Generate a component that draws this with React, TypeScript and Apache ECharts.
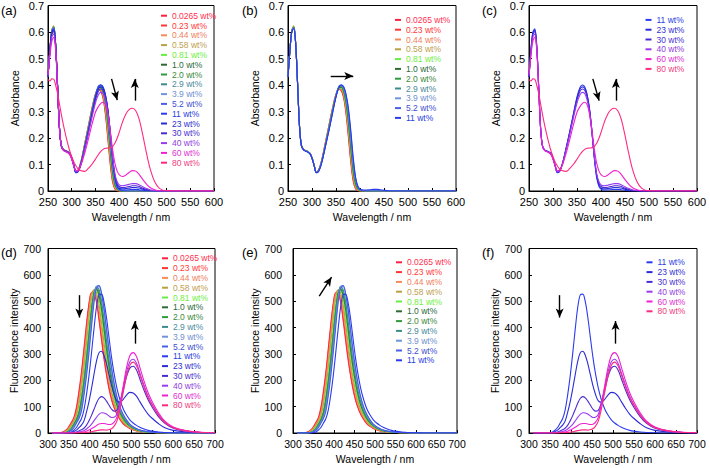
import React, { useEffect, useRef } from 'react';
import * as echarts from 'echarts';

const FONT = 'Liberation Sans, Arial, Helvetica, sans-serif';

const NAMES = ['0.0265 wt%', '0.23 wt%', '0.44 wt%', '0.58 wt%', '0.81 wt%', '1.0 wt%', '2.0 wt%', '2.9 wt%', '3.9 wt%', '5.2 wt%', '11 wt%', '23 wt%', '30 wt%', '40 wt%', '60 wt%', '80 wt%'];
const COLORS = ['#ff2040', '#ff3434', '#f58a5a', '#b9a042', '#66ee44', '#2e6b32', '#2f9a3f', '#3c8c8c', '#6f93dd', '#4a5ee6', '#2a3af0', '#2a2ad8', '#4a2ad0', '#9a3af0', '#f020d0', '#ff2a80'];
const TEXT_COLORS = ['#ff2f4f', '#ff3a3a', '#f08060', '#c0a050', '#70f040', '#2a6a3a', '#3a8a3a', '#4a8a9a', '#7090d0', '#4050d0', '#2a40e0', '#3030d0', '#4a30d0', '#9040e0', '#e030d0', '#f04080'];

const ABS_TICKS_X = [250, 600, 50];
const ABS_TICKS_Y = [0, 0.7, 0.1];
const FL_TICKS_X = [300, 700, 50];
const FL_TICKS_Y = [0, 700, 100];

const X_ABS = [250, 254, 258, 262, 266, 270, 274, 278, 283, 290, 296, 301, 305, 309, 314, 320, 327, 335, 343, 350, 356, 361, 366, 371, 376, 381, 386, 391, 396, 401, 407, 414, 421, 428, 435, 442, 450, 458, 466, 475, 485, 500, 550, 600];

const ABS_C0265 = [0.43, 0.53, 0.605, 0.618, 0.555, 0.405, 0.245, 0.172, 0.156, 0.15, 0.142, 0.12, 0.094, 0.072, 0.08, 0.115, 0.175, 0.245, 0.315, 0.365, 0.383, 0.378, 0.35, 0.29, 0.2, 0.105, 0.035, 0.008, 0.001, 0, 0, 0, 0, 0, 0, 0, 0, 0, 0, 0, 0, 0, 0, 0];
const ABS_C023 = [0.43, 0.53, 0.605, 0.62, 0.556, 0.405, 0.245, 0.172, 0.156, 0.15, 0.142, 0.12, 0.094, 0.072, 0.08, 0.114, 0.174, 0.244, 0.314, 0.365, 0.384, 0.381, 0.355, 0.298, 0.21, 0.115, 0.042, 0.01, 0.002, 0, 0, 0, 0, 0, 0, 0, 0, 0, 0, 0, 0, 0, 0, 0];
const ABS_C044 = [0.43, 0.53, 0.606, 0.622, 0.557, 0.406, 0.246, 0.172, 0.156, 0.15, 0.142, 0.12, 0.094, 0.071, 0.079, 0.113, 0.172, 0.242, 0.312, 0.364, 0.386, 0.384, 0.362, 0.308, 0.225, 0.13, 0.05, 0.013, 0.003, 0, 0, 0, 0, 0, 0, 0, 0, 0, 0, 0, 0, 0, 0, 0];
const ABS_C058 = [0.43, 0.53, 0.606, 0.623, 0.557, 0.406, 0.246, 0.172, 0.156, 0.15, 0.142, 0.12, 0.094, 0.071, 0.079, 0.112, 0.17, 0.24, 0.31, 0.363, 0.387, 0.386, 0.366, 0.315, 0.235, 0.14, 0.056, 0.016, 0.004, 0.001, 0, 0, 0, 0, 0, 0, 0, 0, 0, 0, 0, 0, 0, 0];
const ABS_C081 = [0.43, 0.53, 0.605, 0.62, 0.556, 0.405, 0.245, 0.171, 0.155, 0.15, 0.142, 0.12, 0.093, 0.071, 0.078, 0.111, 0.169, 0.238, 0.308, 0.362, 0.389, 0.389, 0.371, 0.323, 0.245, 0.15, 0.064, 0.02, 0.005, 0.001, 0, 0, 0, 0, 0, 0, 0, 0, 0, 0, 0, 0, 0, 0];
const ABS_C10 = [0.43, 0.53, 0.604, 0.619, 0.556, 0.405, 0.245, 0.171, 0.155, 0.149, 0.141, 0.119, 0.093, 0.07, 0.077, 0.11, 0.167, 0.236, 0.306, 0.361, 0.39, 0.392, 0.376, 0.332, 0.258, 0.162, 0.073, 0.025, 0.007, 0.002, 0, 0, 0, 0, 0, 0, 0, 0, 0, 0, 0, 0, 0, 0];
const ABS_C20 = [0.43, 0.53, 0.604, 0.618, 0.555, 0.404, 0.244, 0.171, 0.155, 0.149, 0.141, 0.119, 0.093, 0.07, 0.077, 0.109, 0.166, 0.234, 0.304, 0.36, 0.392, 0.395, 0.381, 0.34, 0.27, 0.175, 0.083, 0.03, 0.009, 0.002, 0, 0, 0, 0, 0, 0, 0, 0, 0, 0, 0, 0, 0, 0];
const ABS_C29 = [0.43, 0.53, 0.603, 0.617, 0.555, 0.404, 0.244, 0.171, 0.155, 0.149, 0.141, 0.119, 0.093, 0.07, 0.076, 0.108, 0.164, 0.232, 0.302, 0.358, 0.393, 0.397, 0.385, 0.347, 0.282, 0.188, 0.093, 0.036, 0.011, 0.003, 0.001, 0, 0, 0, 0, 0, 0, 0, 0, 0, 0, 0, 0, 0];
const ABS_C39 = [0.43, 0.53, 0.603, 0.616, 0.554, 0.403, 0.243, 0.17, 0.154, 0.149, 0.141, 0.119, 0.093, 0.069, 0.076, 0.107, 0.163, 0.23, 0.3, 0.357, 0.394, 0.399, 0.389, 0.354, 0.293, 0.2, 0.104, 0.042, 0.013, 0.004, 0.001, 0, 0, 0, 0, 0, 0, 0, 0, 0, 0, 0, 0, 0];
const ABS_C52 = [0.43, 0.53, 0.602, 0.615, 0.554, 0.403, 0.243, 0.17, 0.154, 0.148, 0.14, 0.118, 0.092, 0.069, 0.075, 0.106, 0.161, 0.228, 0.298, 0.356, 0.395, 0.401, 0.392, 0.36, 0.303, 0.213, 0.115, 0.047, 0.015, 0.005, 0.002, 0.001, 0, 0, 0, 0, 0, 0, 0, 0, 0, 0, 0, 0];
const ABS_C11 = [0.43, 0.53, 0.6, 0.612, 0.552, 0.402, 0.242, 0.17, 0.154, 0.148, 0.14, 0.118, 0.092, 0.069, 0.075, 0.105, 0.16, 0.225, 0.295, 0.355, 0.39, 0.4, 0.393, 0.365, 0.31, 0.225, 0.125, 0.05, 0.016, 0.006, 0.004, 0.004, 0.005, 0.006, 0.006, 0.005, 0.003, 0.001, 0, 0, 0, 0, 0, 0];
const ABS_C23 = [0.43, 0.53, 0.595, 0.607, 0.55, 0.4, 0.242, 0.17, 0.154, 0.149, 0.141, 0.119, 0.093, 0.071, 0.075, 0.105, 0.158, 0.223, 0.292, 0.35, 0.384, 0.393, 0.388, 0.362, 0.31, 0.228, 0.13, 0.057, 0.022, 0.011, 0.008, 0.009, 0.011, 0.013, 0.013, 0.011, 0.007, 0.004, 0.002, 0.001, 0, 0, 0, 0];
const ABS_C30 = [0.43, 0.525, 0.59, 0.602, 0.546, 0.4, 0.242, 0.17, 0.153, 0.148, 0.14, 0.118, 0.093, 0.072, 0.076, 0.105, 0.157, 0.22, 0.288, 0.343, 0.375, 0.385, 0.38, 0.355, 0.305, 0.226, 0.132, 0.062, 0.028, 0.016, 0.013, 0.014, 0.017, 0.02, 0.02, 0.017, 0.011, 0.006, 0.003, 0.001, 0, 0, 0, 0];
const ABS_C40 = [0.435, 0.52, 0.58, 0.592, 0.54, 0.4, 0.242, 0.17, 0.152, 0.147, 0.139, 0.117, 0.092, 0.073, 0.077, 0.104, 0.153, 0.214, 0.28, 0.332, 0.362, 0.372, 0.368, 0.344, 0.296, 0.221, 0.133, 0.066, 0.034, 0.022, 0.02, 0.022, 0.025, 0.028, 0.028, 0.024, 0.016, 0.009, 0.004, 0.002, 0, 0, 0, 0];
const ABS_C60 = [0.44, 0.51, 0.565, 0.58, 0.535, 0.395, 0.243, 0.172, 0.152, 0.146, 0.136, 0.114, 0.09, 0.077, 0.08, 0.1, 0.14, 0.195, 0.253, 0.297, 0.318, 0.33, 0.335, 0.326, 0.292, 0.232, 0.16, 0.105, 0.074, 0.06, 0.055, 0.06, 0.07, 0.077, 0.075, 0.063, 0.043, 0.025, 0.012, 0.005, 0.001, 0, 0, 0];
const ABS_C80 = [0.42, 0.415, 0.423, 0.422, 0.4, 0.37, 0.33, 0.29, 0.245, 0.19, 0.15, 0.125, 0.108, 0.095, 0.083, 0.076, 0.074, 0.085, 0.102, 0.12, 0.137, 0.149, 0.157, 0.161, 0.162, 0.163, 0.168, 0.18, 0.2, 0.226, 0.26, 0.29, 0.307, 0.312, 0.303, 0.272, 0.21, 0.14, 0.08, 0.035, 0.01, 0.001, 0, 0];

const X_FL = [310, 330, 345, 355, 362, 368, 374, 380, 386, 392, 398, 404, 410, 416, 422, 428, 434, 440, 446, 452, 458, 465, 472, 480, 488, 496, 504, 512, 520, 530, 540, 550, 565, 580, 600, 630, 660, 700];

const FL_C0265 = [0, 1, 14, 38, 59, 97, 157, 230, 319, 411, 490, 532, 529, 497, 430, 355, 282, 220, 167, 127, 97, 71, 52, 35, 25, 17, 12, 8, 6, 4, 3, 2, 1, 1, 0, 0, 0, 0];
const FL_C023 = [0, 1, 12, 35, 54, 88, 146, 218, 305, 398, 482, 531, 534, 505, 444, 369, 294, 231, 177, 133, 101, 74, 54, 37, 26, 18, 13, 9, 6, 4, 3, 2, 1, 1, 0, 0, 0, 0];
const FL_C044 = [0, 0, 10, 30, 49, 75, 125, 193, 276, 369, 459, 526, 542, 519, 469, 397, 319, 252, 195, 148, 112, 81, 60, 41, 28, 20, 14, 10, 7, 4, 3, 2, 1, 1, 0, 0, 0, 0];
const FL_C058 = [0, 0, 8, 25, 44, 64, 107, 169, 246, 338, 431, 506, 542, 532, 491, 423, 346, 274, 213, 162, 123, 89, 66, 46, 31, 22, 15, 10, 7, 5, 3, 2, 1, 1, 0, 0, 0, 0];
const FL_C081 = [0, 0, 5, 20, 38, 55, 89, 148, 220, 308, 403, 488, 537, 540, 510, 449, 373, 298, 233, 179, 134, 98, 72, 50, 34, 25, 17, 12, 8, 5, 3, 2, 1, 1, 0, 0, 0, 0];
const FL_C10 = [0, 0, 3, 15, 33, 50, 76, 127, 195, 278, 372, 464, 531, 547, 524, 473, 400, 322, 254, 197, 149, 107, 79, 55, 38, 27, 19, 13, 9, 6, 4, 2, 1, 1, 0, 0, 0, 0];
const FL_C20 = [0, 0, 2, 14, 31, 47, 70, 117, 183, 265, 360, 453, 527, 555, 535, 488, 417, 338, 266, 208, 158, 114, 83, 58, 41, 28, 20, 14, 10, 6, 4, 3, 1, 1, 0, 0, 0, 0];
const FL_C29 = [0, 0, 2, 13, 28, 45, 66, 110, 174, 252, 347, 442, 519, 556, 546, 504, 433, 354, 281, 218, 166, 120, 87, 62, 43, 29, 21, 15, 10, 7, 4, 3, 1, 1, 0, 0, 0, 0];
const FL_C39 = [0, 0, 2, 10, 24, 40, 57, 92, 153, 228, 319, 417, 506, 556, 559, 529, 466, 387, 308, 242, 185, 133, 97, 68, 48, 32, 23, 16, 11, 7, 5, 3, 2, 1, 0, 0, 0, 0];
const FL_C52 = [0, 0, 1, 9, 20, 37, 54, 82, 141, 214, 302, 399, 492, 549, 559, 532, 475, 398, 319, 251, 193, 138, 101, 71, 50, 34, 24, 17, 11, 7, 5, 3, 2, 1, 0, 0, 0, 0];
const FL_C11 = [0, 0, 0, 3, 11, 21, 37, 54, 87, 144, 215, 301, 393, 476, 524, 527, 498, 439, 364, 290, 228, 170, 128, 92, 68, 50, 38, 29, 22, 15, 10, 7, 4, 2, 1, 0, 0, 0];
const FL_C23 = [0, 0, 0, 1, 6, 11, 20, 30, 45, 78, 118, 167, 221, 272, 304, 310, 295, 263, 222, 181, 148, 122, 117, 127, 144, 154, 152, 140, 119, 93, 71, 55, 35, 20, 10, 4, 2, 1];
const FL_C30 = [0, 0, 0, 0, 2, 4, 8, 12, 18, 29, 46, 66, 89, 113, 131, 138, 133, 121, 106, 91, 83, 86, 114, 162, 213, 246, 253, 239, 205, 162, 125, 97, 61, 37, 18, 7, 3, 1];
const FL_C40 = [0, 0, 0, 0, 1, 2, 4, 6, 9, 15, 23, 33, 46, 59, 71, 77, 76, 72, 65, 59, 60, 71, 110, 169, 231, 270, 280, 265, 228, 181, 139, 107, 69, 41, 21, 8, 3, 1];
const FL_C60 = [0, 0, 0, 0, 0, 1, 2, 3, 4, 7, 11, 16, 22, 28, 34, 36, 36, 34, 32, 33, 40, 59, 108, 177, 247, 293, 305, 290, 249, 197, 152, 118, 76, 45, 23, 9, 4, 1];
const FL_C80 = [0, 0, 0, 0, 0, 0, 1, 1, 1, 2, 3, 5, 7, 9, 11, 12, 12, 11, 13, 16, 25, 45, 89, 152, 216, 257, 269, 255, 220, 174, 134, 105, 67, 40, 20, 8, 3, 1];

const ABS_SETS = [ABS_C0265, ABS_C023, ABS_C044, ABS_C058, ABS_C081, ABS_C10, ABS_C20, ABS_C29, ABS_C39, ABS_C52, ABS_C11, ABS_C23, ABS_C30, ABS_C40, ABS_C60, ABS_C80];
const FL_SETS = [FL_C0265, FL_C023, FL_C044, FL_C058, FL_C081, FL_C10, FL_C20, FL_C29, FL_C39, FL_C52, FL_C11, FL_C23, FL_C30, FL_C40, FL_C60, FL_C80];

// arrows, in data coordinates: [from, to]
const ARROWS_A = [[[384, 0.423], [396, 0.343]], [[433, 0.341], [433, 0.423]]];
const ARROWS_B = [[[339, 0.434], [386, 0.434]]];
const ARROWS_C = [[[383, 0.423], [396, 0.341]], [[431, 0.341], [431, 0.423]]];
const ARROWS_D = [[[375, 523], [375, 438]], [[508, 339], [508, 425]]];
const ARROWS_E = [[[364, 519], [394, 591]]];
const ARROWS_F = [[[373, 523], [373, 438]], [[506, 339], [506, 425]]];

const LOW = [0, 1, 2, 3, 4, 5, 6, 7, 8, 9, 10];
const HIGH = [10, 11, 12, 13, 14, 15];
const ALL = [0, 1, 2, 3, 4, 5, 6, 7, 8, 9, 10, 11, 12, 13, 14, 15];

const PANELS = [
  { label: '(a)', lx: 1, ly: 10, kind: 'abs', set: ALL, arrows: ARROWS_A, grid: { left: 48, top: 5.5, width: 166, height: 185.5 }, legend: { left: 161, top: 10.8 }, labelMargin: 4, nameGap: 28 },
  { label: '(b)', lx: 242, ly: 10, kind: 'abs', set: LOW, arrows: ARROWS_B, grid: { left: 288, top: 5, width: 168, height: 186 }, legend: { left: 395, top: 15 }, labelMargin: 4, nameGap: 28 },
  { label: '(c)', lx: 482, ly: 10, kind: 'abs', set: HIGH, arrows: ARROWS_C, grid: { left: 529, top: 5.5, width: 168, height: 185.5 }, legend: { left: 645.5, top: 15 }, labelMargin: 4, nameGap: 28 },
  { label: '(d)', lx: 1, ly: 252, kind: 'fl', set: ALL, arrows: ARROWS_D, grid: { left: 48, top: 248.5, width: 167, height: 184.5 }, legend: { left: 162, top: 253.4 }, labelMargin: 7, nameGap: 29 },
  { label: '(e)', lx: 242, ly: 252, kind: 'fl', set: LOW, arrows: ARROWS_E, grid: { left: 293, top: 248.5, width: 164, height: 184.5 }, legend: { left: 396, top: 257.4 }, labelMargin: 11, nameGap: 33 },
  { label: '(f)', lx: 482, ly: 252, kind: 'fl', set: HIGH, arrows: ARROWS_F, grid: { left: 529, top: 248.5, width: 168, height: 184.5 }, legend: { left: 646.5, top: 257.4 }, labelMargin: 7, nameGap: 28 },
];

function buildOption() {
  const grid: any[] = [];
  const xAxis: any[] = [];
  const yAxis: any[] = [];
  const legend: any[] = [];
  const series: any[] = [];
  const graphic: any[] = [];

  PANELS.forEach((p, pi) => {
    const isAbs = p.kind === 'abs';
    const tx = isAbs ? ABS_TICKS_X : FL_TICKS_X;
    const ty = isAbs ? ABS_TICKS_Y : FL_TICKS_Y;
    const tickFont = isAbs ? 11 : 10.5;
    grid.push({ ...p.grid, show: true, borderColor: '#000', borderWidth: 1, backgroundColor: 'transparent', containLabel: false });
    xAxis.push({
      type: 'value', gridIndex: pi, min: tx[0], max: tx[1], interval: tx[2],
      name: 'Wavelength / nm', nameLocation: 'middle', nameGap: isAbs ? 20.5 : 20,
      nameTextStyle: { fontSize: 10.5, color: '#000', fontFamily: FONT },
      axisLine: { show: true, lineStyle: { color: '#000', width: 1 } },
      axisTick: { show: true, inside: true, length: 3, lineStyle: { color: '#000' } },
      axisLabel: { fontSize: tickFont, color: '#000', fontFamily: FONT, margin: isAbs ? 5 : 5 },
      splitLine: { show: false },
    });
    yAxis.push({
      type: 'value', gridIndex: pi, min: ty[0], max: ty[1], interval: ty[2],
      name: isAbs ? 'Absorbance' : 'Fluorescence intensity', nameLocation: 'middle', nameGap: p.nameGap,
      nameTextStyle: { fontSize: 10.5, color: '#000', fontFamily: FONT },
      axisLine: { show: true, lineStyle: { color: '#000', width: 1 } },
      axisTick: { show: true, inside: true, length: 3, lineStyle: { color: '#000' } },
      axisLabel: { fontSize: tickFont, color: '#000', fontFamily: FONT, margin: p.labelMargin },
      splitLine: { show: false },
    });
    legend.push({
      orient: 'vertical', left: p.legend.left, top: p.legend.top, padding: 0,
      itemWidth: 6, itemHeight: 2, itemGap: 0, icon: 'rect', selectedMode: false,
      textStyle: { fontSize: 8.5, lineHeight: 9.8, fontFamily: FONT },
      data: p.set.map((k) => ({ name: NAMES[k], textStyle: { color: TEXT_COLORS[k] } })),
    });
    const xs = isAbs ? X_ABS : X_FL;
    const sets = isAbs ? ABS_SETS : FL_SETS;
    p.set.forEach((k, j) => {
      const s: any = {
        type: 'line', name: NAMES[k], xAxisIndex: pi, yAxisIndex: pi,
        data: xs.map((x, i) => [x, sets[k][i]]),
        showSymbol: false, symbol: 'none', smooth: 0.35, clip: true,
        lineStyle: { width: 1.1, color: COLORS[k] }, itemStyle: { color: COLORS[k] },
        silent: true,
      };
      if (j === p.set.length - 1) {
        s.markLine = {
          silent: true, symbol: ['none', 'arrow'], symbolSize: [6, 9], animation: false,
          lineStyle: { color: '#000', width: 1.4, type: 'solid' }, label: { show: false },
          emphasis: { disabled: true },
          data: p.arrows.map((a) => [{ coord: a[0] }, { coord: a[1] }]),
        };
      }
      series.push(s);
    });
    graphic.push({ type: 'text', x: p.lx, y: p.ly, style: { text: p.label, fontSize: 13, fontFamily: FONT, fill: '#000', verticalAlign: 'middle' } });
  });

  return { animation: false, backgroundColor: '#fff', grid, xAxis, yAxis, legend, series, graphic };
}

export default function App() {
  const ref = useRef<HTMLDivElement>(null);
  useEffect(() => {
    const chart = echarts.init(ref.current as HTMLDivElement, undefined, { renderer: 'svg' });
    chart.setOption(buildOption() as any);
    return () => chart.dispose();
  }, []);
  return <div ref={ref} style={{ position: 'fixed', left: 0, top: 0, width: 710, height: 468, background: '#fff' }} />;
}
